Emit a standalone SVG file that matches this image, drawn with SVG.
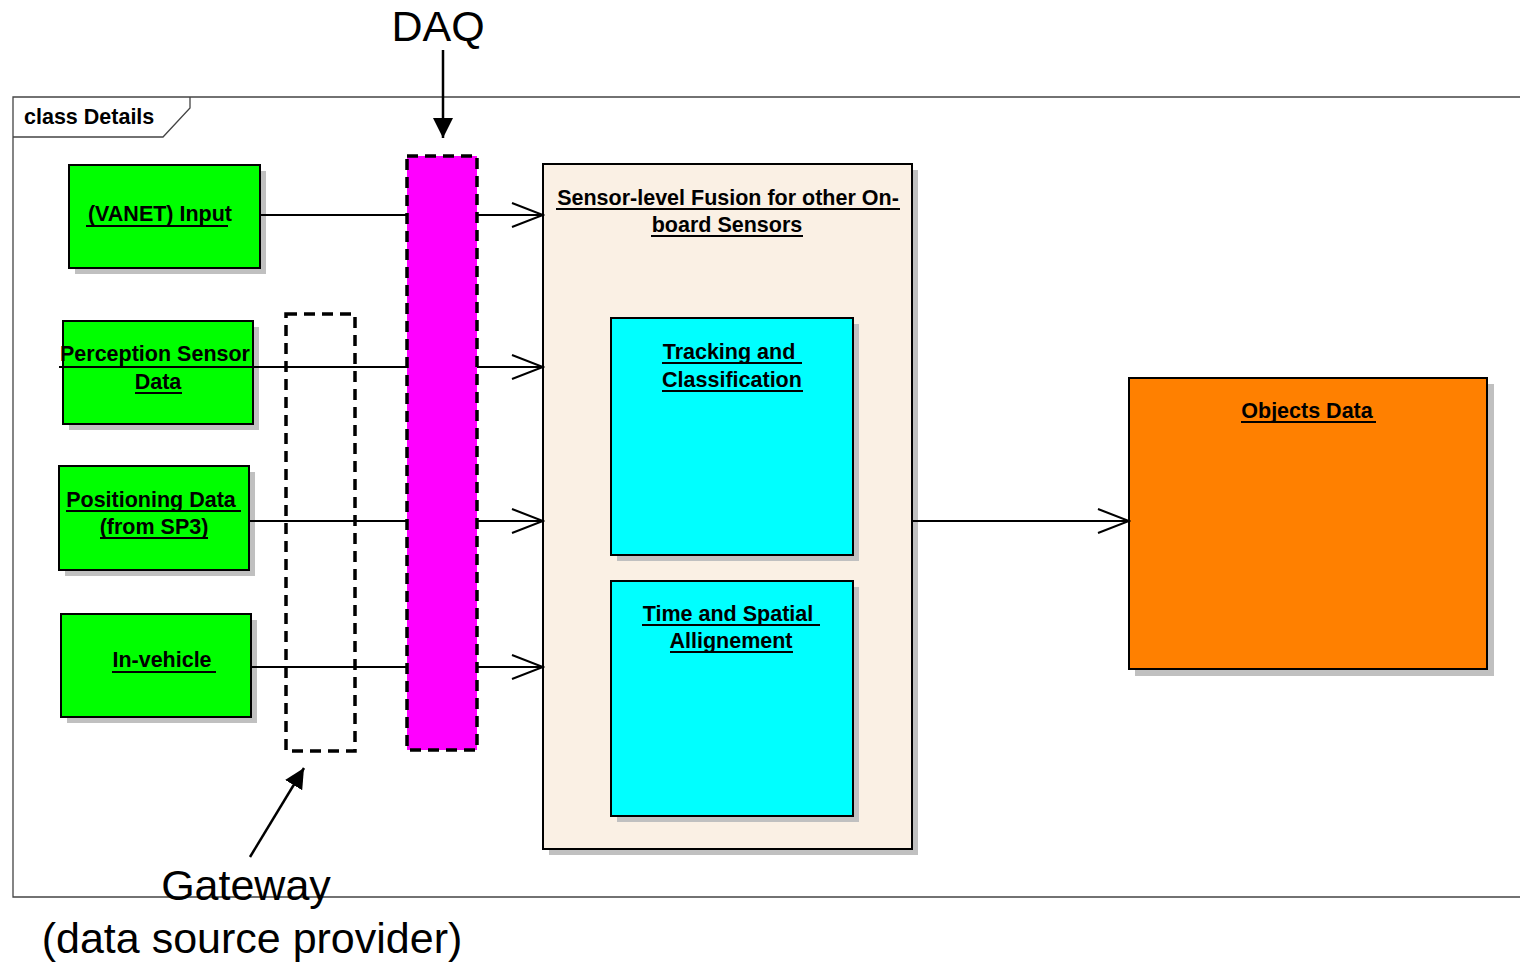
<svg xmlns="http://www.w3.org/2000/svg" width="1520" height="963" viewBox="0 0 1520 963">
  <defs>
    <marker id="open" markerWidth="34" markerHeight="28" refX="32" refY="14" orient="auto" markerUnits="userSpaceOnUse">
      <path d="M1,2 L32,14 L1,26" fill="none" stroke="#000" stroke-width="2"/>
    </marker>
    <marker id="solid" markerWidth="24" markerHeight="24" refX="20" refY="10" orient="auto" markerUnits="userSpaceOnUse">
      <path d="M0,0 L20,10 L0,20 Z" fill="#000"/>
    </marker>
  </defs>
  <style>
    .shadow { fill: #c0c0c0; }
    .box { stroke: #000; stroke-width: 2; }
    .green { fill: #00ff00; }
    .cyan { fill: #00ffff; }
    .beige { fill: #faf0e4; }
    .orange { fill: #ff8000; }
    .lbl { font-family: "Liberation Sans", Arial, sans-serif; font-weight: bold; font-size: 21.5px; fill: #000; text-anchor: middle; }
    .ul { stroke: #000; stroke-width: 2; }
    .big { font-family: "Liberation Sans", Arial, sans-serif; font-size: 43px; fill: #000; text-anchor: middle; }
    .conn { fill: none; stroke: #000; stroke-width: 2; }
    .dash { fill: none; stroke: #000; stroke-width: 3.5; stroke-dasharray: 11 7; }
  </style>
  <rect width="1520" height="963" fill="#fff"/>

  <!-- diagram frame -->
  <g id="frame">
    <path d="M1520,97 L13,97 L13,897 L1520,897" fill="none" stroke="#444" stroke-width="1.3"/>
    <path d="M190,97 L190,108 L163,137 L13,137" fill="none" stroke="#444" stroke-width="1.3"/>
    <text x="24" y="124" font-family="Liberation Sans, Arial, sans-serif" font-weight="bold" font-size="21.5" fill="#000">class Details</text>
  </g>

  <!-- gateway bar (transparent, lines pass through) -->
  <g id="gateway-bar">
    <rect x="286" y="314" width="69" height="437" class="dash"/>
  </g>

  <!-- source nodes -->
  <g id="vanet">
    <rect x="75" y="171" width="191" height="103" class="shadow"/>
    <rect x="69" y="165" width="191" height="103" class="box green"/>
    <text x="160" y="221" class="lbl">(VANET) Input</text>
    <line x1="86" y1="226" x2="228" y2="226" class="ul"/>
  </g>
  <g id="perception">
    <rect x="69" y="327" width="190" height="103" class="shadow"/>
    <rect x="63" y="321" width="190" height="103" class="box green"/>
    <text x="155" y="361" class="lbl">Perception Sensor</text>
    <text x="158" y="389" class="lbl">Data</text>
    <line x1="135" y1="393" x2="182" y2="393" class="ul"/>
  </g>
  <g id="positioning">
    <rect x="65" y="472" width="190" height="104" class="shadow"/>
    <rect x="59" y="466" width="190" height="104" class="box green"/>
    <text x="151" y="507" class="lbl">Positioning Data</text>
    <line x1="66" y1="511" x2="241" y2="511" class="ul"/>
    <text x="154" y="534" class="lbl">(from SP3)</text>
    <line x1="100" y1="538" x2="208" y2="538" class="ul"/>
  </g>
  <g id="in-vehicle">
    <rect x="67" y="620" width="190" height="103" class="shadow"/>
    <rect x="61" y="614" width="190" height="103" class="box green"/>
    <text x="162" y="667" class="lbl">In-vehicle</text>
    <line x1="112" y1="672" x2="216" y2="672" class="ul"/>
  </g>

  <!-- fusion container -->
  <g id="fusion">
    <rect x="549" y="170" width="369" height="685" class="shadow"/>
    <rect x="543" y="164" width="369" height="685" class="box beige"/>
    <text x="728" y="205" class="lbl">Sensor-level Fusion for other On-</text>
    <line x1="556" y1="209" x2="900" y2="209" class="ul"/>
    <text x="727" y="232" class="lbl">board Sensors</text>
    <line x1="651" y1="236" x2="803" y2="236" class="ul"/>
  </g>
  <g id="tracking">
    <rect x="617" y="324" width="242" height="237" class="shadow"/>
    <rect x="611" y="318" width="242" height="237" class="box cyan"/>
    <text x="729" y="359" class="lbl">Tracking and</text>
    <line x1="662" y1="363" x2="802" y2="363" class="ul"/>
    <text x="732" y="387" class="lbl">Classification</text>
    <line x1="662" y1="391" x2="803" y2="391" class="ul"/>
  </g>
  <g id="alignment">
    <rect x="617" y="587" width="242" height="235" class="shadow"/>
    <rect x="611" y="581" width="242" height="235" class="box cyan"/>
    <text x="728" y="621" class="lbl">Time and Spatial</text>
    <line x1="642" y1="625" x2="820" y2="625" class="ul"/>
    <text x="731" y="648" class="lbl">Allignement</text>
    <line x1="670" y1="652" x2="793" y2="652" class="ul"/>
  </g>

  <!-- output node -->
  <g id="objects">
    <rect x="1135" y="384" width="359" height="292" class="shadow"/>
    <rect x="1129" y="378" width="358" height="291" class="box orange"/>
    <text x="1307" y="418" class="lbl">Objects Data</text>
    <line x1="1241" y1="422" x2="1376" y2="422" class="ul"/>
  </g>

  <!-- connectors -->
  <g id="connectors">
    <line x1="260" y1="215" x2="543" y2="215" class="conn" marker-end="url(#open)"/>
    <line x1="59" y1="367" x2="543" y2="367" class="conn" marker-end="url(#open)"/>
    <line x1="249" y1="521" x2="543" y2="521" class="conn" marker-end="url(#open)"/>
    <line x1="251" y1="667" x2="543" y2="667" class="conn" marker-end="url(#open)"/>
    <line x1="912" y1="521" x2="1129" y2="521" class="conn" marker-end="url(#open)"/>
  </g>

  <!-- DAQ bar, drawn over the connectors -->
  <g id="daq-bar">
    <rect x="407" y="156" width="70" height="594" fill="#ff00ff"/>
    <rect x="407" y="156" width="70" height="594" class="dash"/>
  </g>

  <!-- callouts -->
  <g id="daq-callout">
    <text x="438" y="41" class="big">DAQ</text>
    <line x1="443" y1="50" x2="443" y2="138" stroke="#000" stroke-width="2.5" marker-end="url(#solid)"/>
  </g>
  <g id="gateway-callout">
    <line x1="250" y1="857" x2="304" y2="768" stroke="#000" stroke-width="2.5" marker-end="url(#solid)"/>
    <text x="246" y="900" class="big">Gateway</text>
    <text x="252" y="953" class="big">(data source provider)</text>
  </g>
</svg>
